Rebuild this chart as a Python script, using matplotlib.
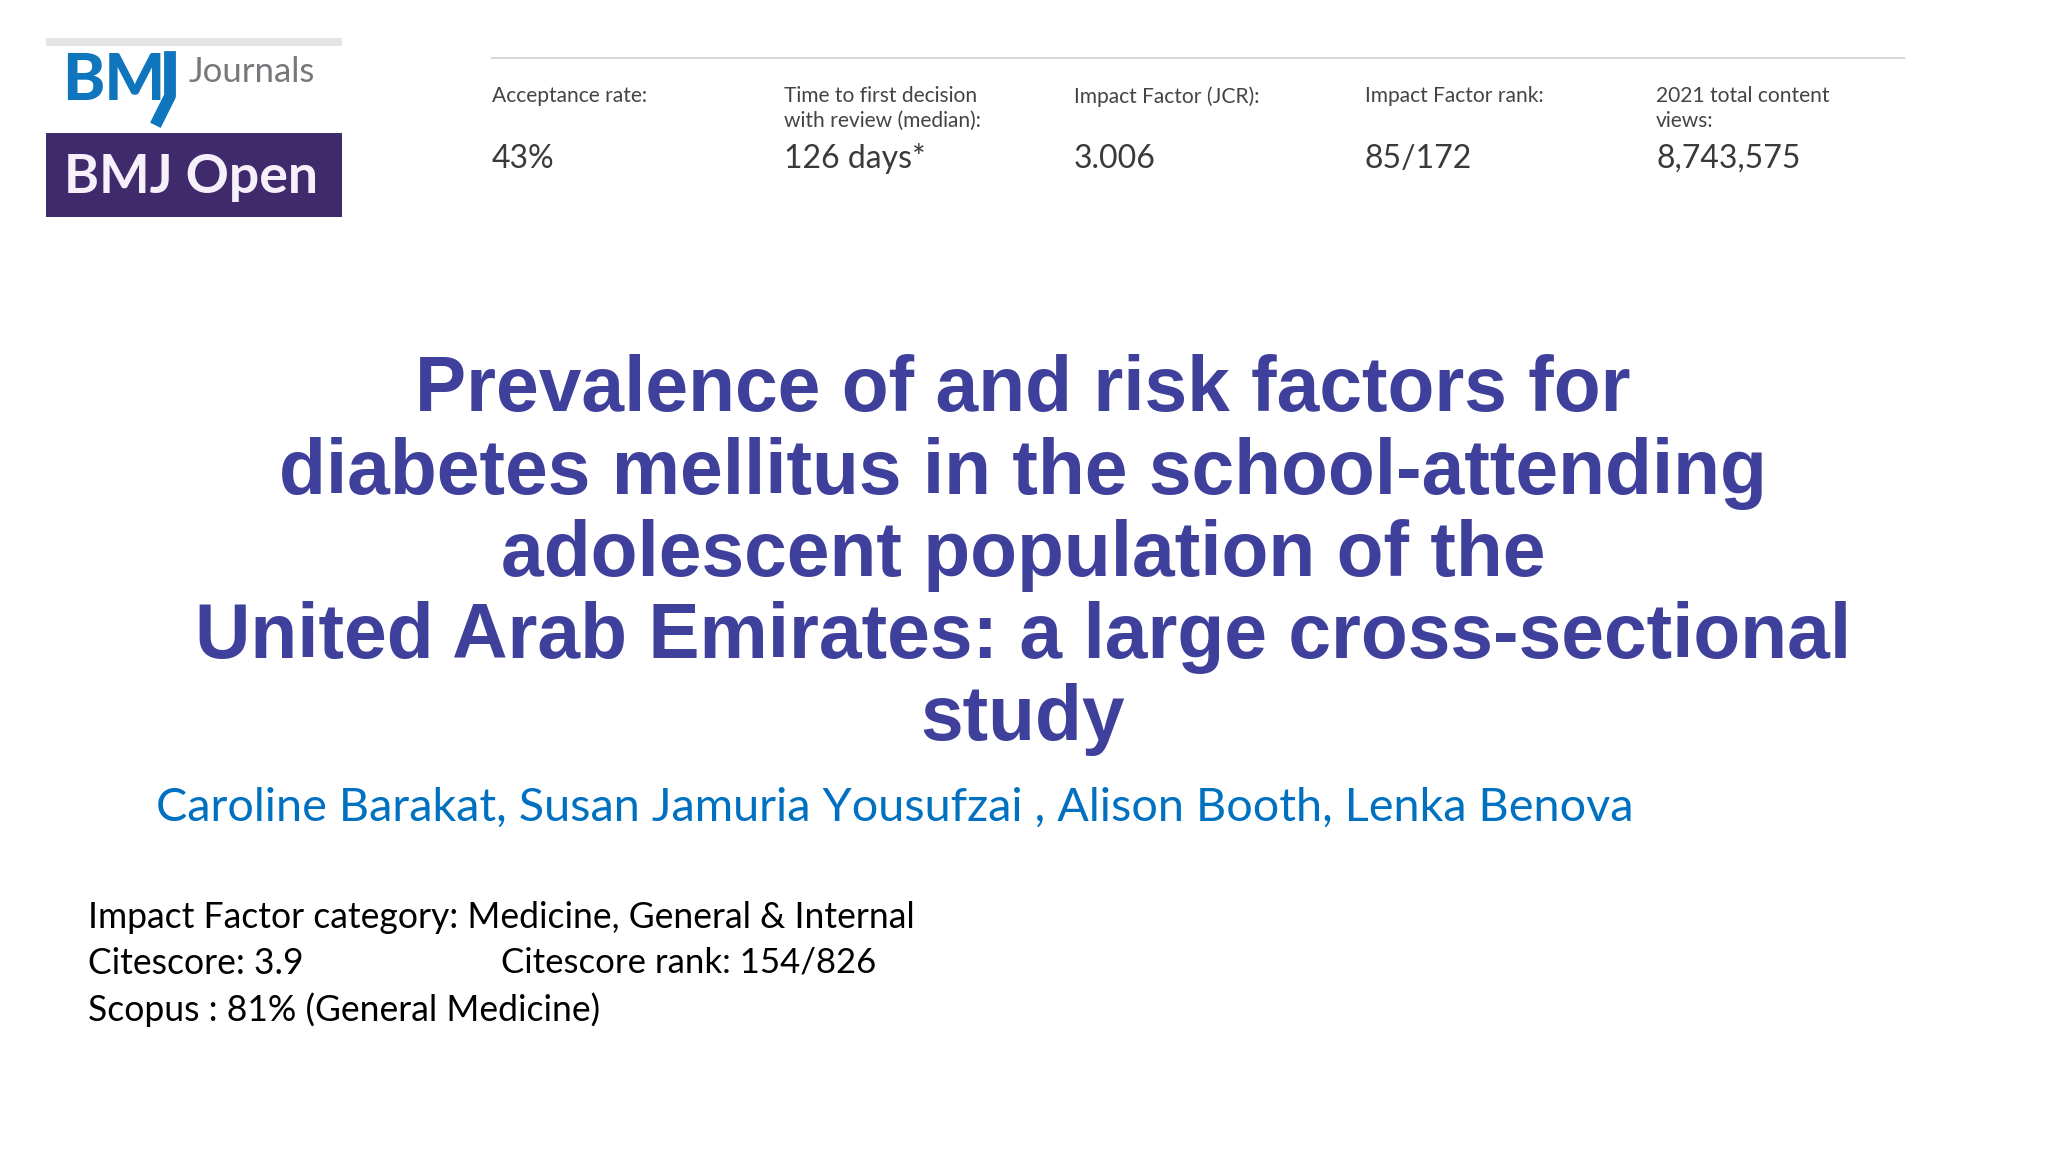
import matplotlib
matplotlib.use('Agg')
import matplotlib.pyplot as plt
from matplotlib.patches import Rectangle

# slide text
stat_labels = ['Acceptance rate:', 'Time to first decision\nwith review (median):',
               'Impact Factor (JCR):', 'Impact Factor rank:', '2021 total content\nviews:']
stat_values = ['43%', '126 days*', '3.006', '85/172', '8,743,575']
stat_x = [492, 784, 1074, 1365, 1656]

title_lines = ['Prevalence of and risk factors for',
               'diabetes mellitus in the school-attending',
               'adolescent population of the',
               'United Arab Emirates: a large cross-sectional',
               'study']
title_y = [390, 473, 556, 638, 720]

authors = 'Caroline Barakat, Susan Jamuria Yousufzai , Alison Booth, Lenka Benova'
footer_lines = ['Impact Factor category: Medicine, General & Internal', 'Citescore: 3.9', 'Scopus : 81% (General Medicine)']
footer_y = [917.5, 963.5, 1009.5]
rank_text = 'Citescore rank: 154/826'

fig = plt.figure(figsize=(20.48, 11.52), dpi=100)
ax = fig.add_axes([0, 0, 1, 1])
ax.set_xlim(0, 2048)
ax.set_ylim(1152, 0)
ax.axis('off')

# logo block
ax.add_patch(Rectangle((46, 38), 296, 8, color='#e4e4e4', lw=0))
ax.add_patch(Rectangle((46, 133), 296, 84, color='#3f2a6b', lw=0))
ax.text(62, 81, 'BM', family='Lato', weight='black', fontsize=46, color='#0f75bc', va='center')
ax.plot([170, 170, 158], [57, 96, 120], color='#0f75bc', lw=8.5, solid_joinstyle='round')
ax.text(189, 72, 'Journals', family='Lato', fontsize=25, color='#77787b', va='center')
ax.text(64, 177, 'BMJ Open', family='Lato', weight='bold', fontsize=38.5, color='#f5f0fa', va='center')

# journal stats
ax.plot([492, 1904], [58, 58], color='#d8d8d8', lw=1.5)
for x, lab, val in zip(stat_x, stat_labels, stat_values):
    ax.text(x, 86, lab, family='Lato', fontsize=15.1, color='#444444', va='top', linespacing=1.3)
    ax.text(x, 159, val, family='Lato', fontsize=23, color='#3a3a3a', va='center')

for y, line in zip(title_y, title_lines):
    ax.text(1023, y, line, family='Liberation Sans', weight='bold', fontsize=55.3,
            color='#3f3f9c', ha='center', va='center')

ax.text(156, 808, authors, family='Lato', fontsize=33.65, color='#0070c0', va='center')

for y, line in zip(footer_y, footer_lines):
    ax.text(88, y, line, family='Lato', fontsize=25.6, color='black', va='center')
ax.text(501, 962, rank_text, family='Lato', fontsize=25, color='black', va='center')

fig.savefig('out.png', dpi=100)
